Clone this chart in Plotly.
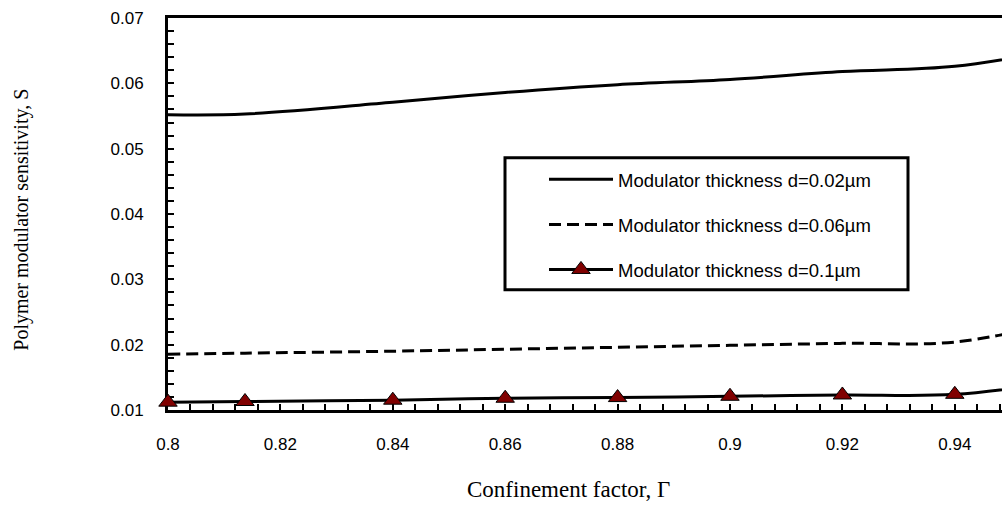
import plotly.graph_objects as go

# Confinement factor samples and modulator sensitivity for each modulator thickness
gamma = [0.8, 0.8137, 0.84, 0.86, 0.88, 0.9, 0.92, 0.94, 0.96]
s_d002 = [0.0552, 0.0553, 0.0571, 0.0586, 0.0598, 0.0606, 0.0618, 0.0626, 0.0654]
s_d006 = [0.01855, 0.0187, 0.0190, 0.0193, 0.0196, 0.0199, 0.0202, 0.0204, 0.0237]
s_d01 = [0.0112, 0.0113, 0.0115, 0.0118, 0.0119, 0.0121, 0.0123, 0.0124, 0.0145]

series_names = [
    "Modulator thickness d=0.02µm",
    "Modulator thickness d=0.06µm",
    "Modulator thickness d=0.1µm",
]

SANS = "Arial, Liberation Sans, sans-serif"
SERIF = "Times New Roman, Liberation Serif, serif"

fig = go.Figure()

fig.add_trace(go.Scatter(
    x=gamma, y=s_d002, mode="lines", name=series_names[0], legendgroup="a",
    line=dict(color="black", width=3, shape="spline", smoothing=1),
))
fig.add_trace(go.Scatter(
    x=gamma, y=s_d006, mode="lines", name=series_names[1], legendgroup="b",
    line=dict(color="black", width=3, dash="12px,6px", shape="spline", smoothing=1),
))
fig.add_trace(go.Scatter(
    x=gamma, y=s_d01, mode="lines+markers", name=series_names[2], legendgroup="c",
    line=dict(color="black", width=3, shape="spline", smoothing=1),
    marker=dict(symbol="triangle-up", size=16, color="#800000",
                line=dict(color="black", width=1)),
    cliponaxis=False,
))

# plot area spans pixels 168..1002 horizontally, 18..410.5 vertically
W, H = 1002, 506
L, R, T, B = 168, 0, 18, 95.5
pw, ph = W - L - R, H - T - B


def px_x(px):
    return (px - L) / pw


def px_y(py):
    return (H - B - py) / ph


fig.update_layout(
    width=W, height=H,
    margin=dict(l=L, r=R, t=T, b=B, pad=0),
    paper_bgcolor="white", plot_bgcolor="white",
    showlegend=True,
    legend=dict(
        x=px_x(508), y=px_y(161), xanchor="left", yanchor="top",
        bgcolor="rgba(0,0,0,0)", borderwidth=0,
        font=dict(family=SANS, size=18.5, color="black"),
        tracegroupgap=18, itemwidth=64, indentation=36,
    ),
    # framed box behind the legend entries
    shapes=[
        dict(type="rect", xref="paper", yref="paper",
             x0=px_x(505), x1=px_x(908), y0=px_y(290), y1=px_y(158),
             line=dict(color="black", width=3), fillcolor="white", layer="above"),
    ],
    xaxis=dict(
        range=[0.8, 0.9484], tick0=0.8, dtick=0.02,
        showline=True, linecolor="black", linewidth=3, mirror=True,
        ticks="inside", ticklen=6, tickwidth=1.5, tickcolor="black",
        minor=dict(ticks="inside", dtick=0.004, ticklen=6, tickwidth=1.5, tickcolor="black"),
        showgrid=False, zeroline=False,
        tickfont=dict(family=SANS, size=17, color="black"),
        ticklabelstandoff=17, layer="below traces",
    ),
    yaxis=dict(
        range=[0.01, 0.07], tick0=0.01, dtick=0.01,
        showline=True, linecolor="black", linewidth=3, mirror=False,
        ticks="inside", ticklen=6, tickwidth=1.5, tickcolor="black",
        minor=dict(ticks="inside", dtick=0.002, ticklen=6, tickwidth=1.5, tickcolor="black"),
        showgrid=False, zeroline=False,
        tickfont=dict(family=SANS, size=17, color="black"),
        ticklabelstandoff=18, layer="below traces",
    ),
    annotations=[
        dict(text="Confinement factor, Γ", xref="paper", yref="paper",
             x=px_x(568), y=px_y(490), xanchor="center", yanchor="middle",
             showarrow=False, font=dict(family=SERIF, size=23, color="black")),
        dict(text="Polymer modulator sensitivity, S", xref="paper", yref="paper",
             x=px_x(22), y=px_y(220), xanchor="center", yanchor="middle",
             textangle=-90, showarrow=False, font=dict(family=SERIF, size=20, color="black")),
    ],
)

fig.write_html("out.html")
